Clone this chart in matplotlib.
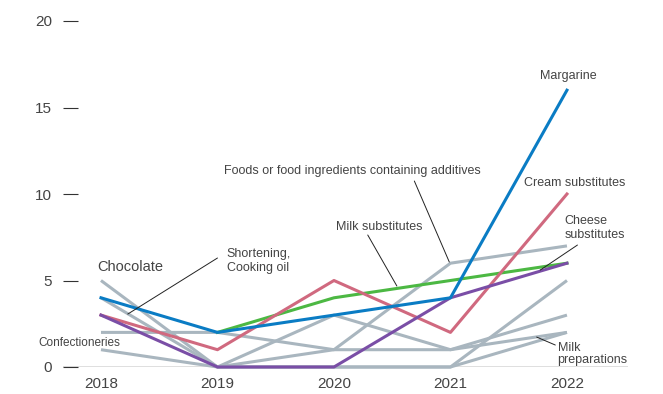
import numpy as np
import matplotlib
matplotlib.use("Agg")
import matplotlib.pyplot as plt

plt.rcParams["font.family"] = ["Liberation Sans", "DejaVu Sans"]

years = ["2018", "2019", "2020", "2021", "2022"]

# Highlighted series
margarine = [4, 2, 3, 4, 16]
cream_substitutes = [3, 1, 5, 2, 10]
cheese_substitutes = [3, 0, 0, 4, 6]
milk_substitutes = [np.nan, 2, 4, 5, 6]

# Grey background series
chocolate = [5, 0, 3, 1, 3]
shortening_cooking_oil = [4, 0, 1, 6, 7]
milk_preparations = [2, 2, 1, 1, 2]
confectioneries = [1, 0, 0, 0, 5]
other_products = [np.nan, 0, 0, 0, 2]

GREY = "#a9b6bf"
TEXT = "#444444"

x = np.arange(len(years))

fig = plt.figure(figsize=(6.63, 3.94), dpi=100)
ax = fig.add_axes([63 / 663, 1 - 367 / 394, 565 / 663, 346 / 394])

for series in [chocolate, shortening_cooking_oil, milk_preparations,
               confectioneries, other_products]:
    ax.plot(x, series, color=GREY, lw=2.2, clip_on=False, zorder=2,
            solid_capstyle="butt")

ax.plot(x, milk_substitutes, color="#4cb843", lw=2.2, clip_on=False, zorder=3)
ax.plot(x, cream_substitutes, color="#d0697f", lw=2.2, clip_on=False, zorder=4)
ax.plot(x, cheese_substitutes, color="#7a4ea6", lw=2.2, clip_on=False, zorder=5)
ax.plot(x, margarine, color="#0a7cc4", lw=2.2, clip_on=False, zorder=6)

# baseline
ax.axhline(0, color="black", lw=0.9, zorder=1)

ax.set_xlim(-0.326, 4.524)
ax.set_ylim(0, 20)
ax.set_yticks([0, 5, 10, 15, 20])
ax.set_xticks(x)
ax.set_xticklabels(years)
ax.tick_params(axis="y", direction="in", length=11, width=0.8, color="#333333",
               pad=8, labelsize=11, labelcolor=TEXT)
ax.tick_params(axis="x", length=0, pad=7, labelsize=11, labelcolor=TEXT)
for s in ax.spines.values():
    s.set_visible(False)

fs = 9
ax.text(4.01, 16.8, "Margarine", ha="center", va="center", fontsize=fs, color=TEXT)
ax.text(4.07, 10.64, "Cream substitutes", ha="center", va="center", fontsize=fs, color=TEXT)
ax.text(3.98, 8.03, "Cheese\nsubstitutes", ha="left", va="center", fontsize=fs,
        color=TEXT, linespacing=1.2)
ax.text(2.39, 8.09, "Milk substitutes", ha="center", va="center", fontsize=fs, color=TEXT)
ax.text(2.16, 11.33, "Foods or food ingredients containing additives", ha="center",
        va="center", fontsize=fs, color=TEXT)
ax.text(-0.03, 5.78, "Chocolate", ha="left", va="center", fontsize=10.5, color=TEXT)
ax.text(1.08, 6.13, "Shortening,\nCooking oil", ha="left", va="center", fontsize=fs,
        color=TEXT, linespacing=1.2)
ax.text(-0.54, 1.39, "Confectioneries", ha="left", va="center", fontsize=8.5, color=TEXT)
ax.text(3.92, 0.75, "Milk\npreparations", ha="left", va="center", fontsize=fs,
        color=TEXT, linespacing=1.1)

pointers = [
    ((1.0, 6.3), (0.23, 3.06)),
    ((2.29, 7.63), (2.54, 4.68)),
    ((2.69, 10.75), (2.99, 6.07)),
    ((4.09, 7.05), (3.77, 5.6)),
    ((3.90, 1.27), (3.74, 1.73)),
]
for start, end in pointers:
    ax.annotate("", xy=end, xytext=start,
                arrowprops=dict(arrowstyle="-", color="#222222", lw=0.7,
                                shrinkA=0, shrinkB=0), zorder=7)

plt.savefig("out.png", dpi=100)
plt.close()
